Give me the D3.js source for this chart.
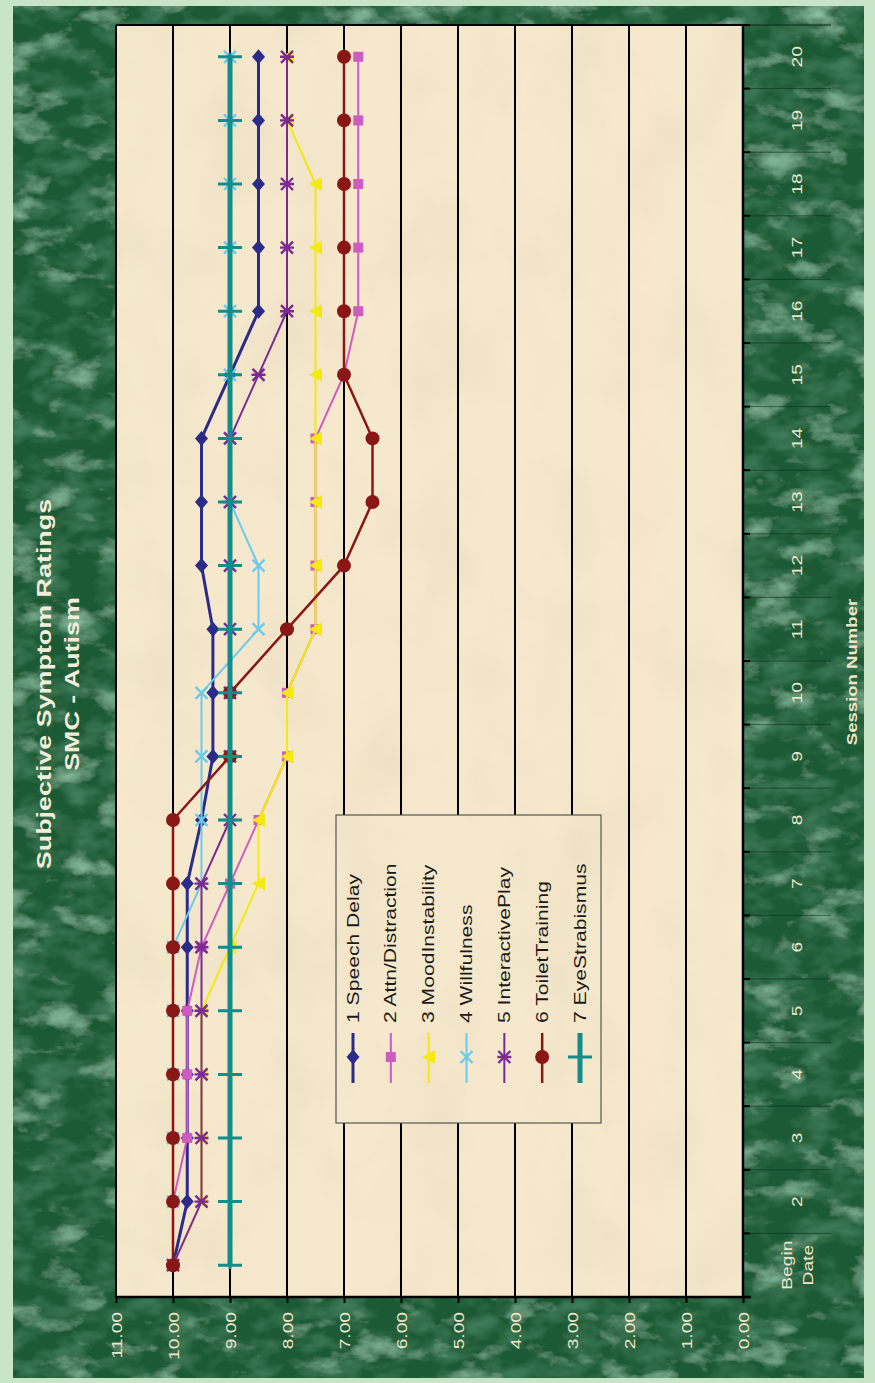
<!DOCTYPE html>
<html><head><meta charset="utf-8">
<script src="https://cdn.jsdelivr.net/npm/d3@7"></script>
<style>body{margin:0;background:#c9e5c9;}svg{display:block}</style>
</head><body>
<svg id="chart" width="875" height="1383"></svg>
<script>
// ---------- data ----------
const categories = ["Begin Date","2","3","4","5","6","7","8","9","10","11","12","13","14","15","16","17","18","19","20"];
const valueTicks = [0,1,2,3,4,5,6,7,8,9,10,11];
const seriesNames = ["1 Speech Delay","2 Attn/Distraction","3 MoodInstability","4 Willfulness","5 InteractivePlay","6 ToiletTraining","7 EyeStrabismus"];
const speechDelay    = [10,9.75,9.75,9.75,9.75,9.75,9.75,9.5,9.3,9.3,9.3,9.5,9.5,9.5,9,8.5,8.5,8.5,8.5,8.5];
const attnDistraction= [10,10,9.75,9.75,9.75,9.5,9,8.5,8,8,7.5,7.5,7.5,7.5,7,6.75,6.75,6.75,6.75,6.75];
const moodInstability= [10,9.5,9.5,9.5,9.5,9,8.5,8.5,8,8,7.5,7.5,7.5,7.5,7.5,7.5,7.5,7.5,8,8];
const willfulness    = [10,10,10,10,10,10,9.5,9.5,9.5,9.5,8.5,8.5,9,9,9,9,9,9,9,9];
const interactivePlay= [10,9.5,9.5,9.5,9.5,9.5,9.5,9,9,9,9,9,9,9,8.5,8,8,8,8,8];
const toiletTraining = [10,10,10,10,10,10,10,10,9,9,8,7,6.5,6.5,7,7,7,7,7,7];
const eyeStrabismus  = [9,9,9,9,9,9,9,9,9,9,9,9,9,9,9,9,9,9,9,9];
const titleLines = ["Subjective Symptom Ratings","SMC - Autism"];
const axisTitle = "Session Number";

// ---------- styles ----------
const seriesValues = [speechDelay,attnDistraction,moodInstability,willfulness,interactivePlay,toiletTraining,eyeStrabismus];
const colors  = ["#2b2b8a","#cc5cc0","#f2ea10","#6ccbea","#7a2a92","#8a1616","#138c8c"];
const widths  = [3,2,2,2,2,2.5,5];
const markers = ["diamond","square","triangle","x","star","circle","plus"];

const svg = d3.select("#chart");
const FONT = "'Liberation Sans', Arial, sans-serif";
const STRETCH = 1.28;
const plot = {left:116, right:743, top:25, bottom:1297};

// textures
const defs = svg.append("defs");
const gf = defs.append("filter").attr("id","marble").attr("x",0).attr("y",0).attr("width",1).attr("height",1);
gf.append("feTurbulence").attr("type","fractalNoise").attr("baseFrequency","0.02 0.035").attr("numOctaves",5).attr("seed",7).attr("result","n");
gf.append("feColorMatrix").attr("in","n").attr("type","matrix")
  .attr("values","0 0 0 0 0.27  0 0 0 0 0.55  0 0 0 0 0.37  2.6 0 0 0 -1.45").attr("result","veins");
gf.append("feTurbulence").attr("type","fractalNoise").attr("baseFrequency","0.03 0.05").attr("numOctaves",3).attr("seed",2).attr("result","n2");
gf.append("feColorMatrix").attr("in","n2").attr("type","matrix")
  .attr("values","0 0 0 0 0.05  0 0 0 0 0.2  0 0 0 0 0.1  -2.4 0 0 0 1.4").attr("result","dark");
gf.append("feFlood").attr("flood-color","#1d5a34").attr("result","base");
gf.append("feComposite").attr("in","dark").attr("in2","base").attr("operator","over").attr("result","b2");
gf.append("feComposite").attr("in","veins").attr("in2","b2").attr("operator","over");

const pf = defs.append("filter").attr("id","paper").attr("x",0).attr("y",0).attr("width",1).attr("height",1);
pf.append("feTurbulence").attr("type","fractalNoise").attr("baseFrequency","0.015 0.01").attr("numOctaves",5).attr("seed",3).attr("result","n");
pf.append("feColorMatrix").attr("in","n").attr("type","matrix")
  .attr("values","0 0 0 0 0.85  0 0 0 0 0.73  0 0 0 0 0.54  1.6 0 0 0 -0.68").attr("result","spots");
pf.append("feFlood").attr("flood-color","#f5e8cc").attr("result","base");
pf.append("feComposite").attr("in","spots").attr("in2","base").attr("operator","over");

// panel
svg.append("rect").attr("x",13).attr("y",6).attr("width",851).attr("height",1372).attr("fill","#1e5c35").attr("filter","url(#marble)");
svg.append("rect").attr("x",plot.left).attr("y",plot.top).attr("width",plot.right-plot.left).attr("height",plot.bottom-plot.top)
  .attr("fill","#f4e6c9").attr("filter","url(#paper)");

// scales
const x = d3.scaleLinear().domain([0,11]).range([plot.right,plot.left]);
const y = d3.scaleBand().domain(categories).range([plot.bottom,plot.top]);
const yc = c => y(c) + y.bandwidth()/2;

function vtext(sel, tx, ty){ return sel.attr("transform",`translate(${tx},${ty}) rotate(-90) scale(${STRETCH},1)`); }

// gridlines
svg.append("g").selectAll("line").data(valueTicks).join("line")
  .attr("x1",d=>x(d)).attr("x2",d=>x(d)).attr("y1",plot.top).attr("y2",plot.bottom)
  .attr("stroke","#000").attr("stroke-width",2);
svg.append("line").attr("x1",plot.left).attr("x2",plot.right).attr("y1",plot.top).attr("y2",plot.top).attr("stroke","#000").attr("stroke-width",2);

// value axis (bottom)
const xAxis = svg.append("g").attr("transform",`translate(0,${plot.bottom})`)
  .call(d3.axisBottom(x).tickValues(valueTicks).tickSize(6).tickFormat(d3.format(".2f")).tickSizeOuter(0));
xAxis.select(".domain").attr("stroke","#000").attr("stroke-width",2.5).attr("d",`M${plot.left},0H${plot.right+8}`);
xAxis.selectAll(".tick line").attr("stroke","#000").attr("stroke-width",2);
xAxis.selectAll(".tick text").attr("x",null).attr("y",null).attr("dy",null)
  .each(function(){ vtext(d3.select(this),0,15); })
  .attr("text-anchor","end").attr("dominant-baseline","central")
  .attr("fill","#efe6c9").attr("font-family",FONT).attr("font-size",15);

// category axis (right)
const yAxis = svg.append("g").attr("transform",`translate(${plot.right},0)`)
  .call(d3.axisRight(y).tickSize(0).tickSizeOuter(0));
yAxis.select(".domain").attr("stroke","#000").attr("stroke-width",2.5).attr("d",`M0,${plot.top}V${plot.bottom}`);
yAxis.selectAll(".tick text").remove();
const bounds = categories.map(c=>y(c)).concat([plot.top]);
svg.append("g").selectAll("line.sep").data(bounds).join("line")
  .attr("x1",plot.right+7).attr("x2",plot.right+88).attr("y1",d=>d).attr("y2",d=>d)
  .attr("stroke","#0b2a16").attr("stroke-opacity",0.55).attr("stroke-width",1);
svg.append("g").selectAll("line.tk").data(bounds).join("line")
  .attr("x1",plot.right).attr("x2",plot.right+7).attr("y1",d=>d).attr("y2",d=>d)
  .attr("stroke","#000").attr("stroke-width",2);
const catLab = svg.append("g").selectAll("g").data(categories).join("g");
catLab.each(function(c){
  const g = d3.select(this);
  const parts = c.split(" ");
  parts.forEach((p,i)=>{
    const off = (i - (parts.length-1)/2) * 21;
    vtext(g.append("text"), 797+off, yc(c)).text(p)
      .attr("text-anchor","middle").attr("dominant-baseline","central")
      .attr("fill","#efe6c9").attr("font-family",FONT).attr("font-size",15);
  });
});

// titles
titleLines.forEach((t,i)=>{
  vtext(svg.append("text"), 44 + i*28, 684).text(t)
    .attr("text-anchor","middle").attr("dominant-baseline","central")
    .attr("fill","#f3eedb").attr("font-family",FONT).attr("font-weight","bold").attr("font-size",21);
});
vtext(svg.append("text"), 852, 672).text(axisTitle)
  .attr("text-anchor","middle").attr("dominant-baseline","central")
  .attr("fill","#efe6c9").attr("font-family",FONT).attr("font-weight","bold").attr("font-size",14.5);

// marker drawing
function drawMarker(g, type, color){
  switch(type){
    case "diamond": g.append("path").attr("d","M0,-7.5L6.5,0L0,7.5L-6.5,0Z").attr("fill",color); break;
    case "square": g.append("rect").attr("x",-5).attr("y",-5).attr("width",10).attr("height",10).attr("fill",color); break;
    case "triangle": g.append("path").attr("d","M-6.5,0L6.5,-7L6.5,7Z").attr("fill",color); break;
    case "x": g.append("path").attr("d","M-6,-6L6,6M-6,6L6,-6").attr("stroke",color).attr("stroke-width",2.4).attr("fill","none"); break;
    case "star": g.append("path").attr("d","M-6,-6L6,6M-6,6L6,-6M-7,0H7").attr("stroke",color).attr("stroke-width",2.4).attr("fill","none"); break;
    case "circle": g.append("circle").attr("r",7).attr("fill",color); break;
    case "plus": g.append("path").attr("d","M-12,0H12M0,-4V4").attr("stroke",color).attr("stroke-width",3).attr("fill","none"); break;
  }
}

// series
const line = d3.line().x(d=>x(d.v)).y(d=>yc(d.c));
seriesValues.forEach((vals,si)=>{
  const pts = vals.map((v,i)=>({c:categories[i], v}));
  const g = svg.append("g");
  g.append("path").datum(pts).attr("d",line).attr("fill","none")
    .attr("stroke",colors[si]).attr("stroke-width",widths[si]).attr("stroke-linejoin","round");
  g.selectAll("g").data(pts).join("g")
    .attr("transform",d=>`translate(${x(d.v)},${yc(d.c)})`)
    .each(function(){ drawMarker(d3.select(this), markers[si], colors[si]); });
});

// legend
const lg = svg.append("g");
lg.append("rect").attr("x",336).attr("y",815).attr("width",265).attr("height",308)
  .attr("fill","#f4e6c9").attr("filter","url(#paper)");
lg.append("rect").attr("x",336).attr("y",815).attr("width",265).attr("height",308)
  .attr("fill","none").attr("stroke","#555").attr("stroke-width",1.2);
const legX = d3.scalePoint().domain(seriesNames).range([353,580]);
seriesNames.forEach((nm,si)=>{
  const cx = legX(nm);
  lg.append("line").attr("x1",cx).attr("x2",cx).attr("y1",1033).attr("y2",1083)
    .attr("stroke",colors[si]).attr("stroke-width",widths[si]);
  drawMarker(lg.append("g").attr("transform",`translate(${cx},1057)`), markers[si], colors[si]);
  vtext(lg.append("text"), cx, 1023).text(nm)
    .attr("text-anchor","start").attr("dominant-baseline","central")
    .attr("fill","#1a1a1a").attr("font-family",FONT).attr("font-size",16.5);
});
</script>
</body></html>
